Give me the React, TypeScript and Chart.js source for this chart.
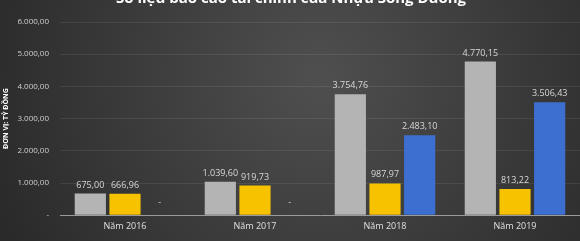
import React, { useEffect, useRef } from "react";
import { Chart, registerables } from "chart.js";

Chart.register(...registerables);

const categories = ["Năm 2016", "Năm 2017", "Năm 2018", "Năm 2019"];
const seriesGray = [675.0, 1039.6, 3754.76, 4770.15];
const seriesYellow = [666.96, 919.73, 987.97, 813.22];
const seriesBlue = [0, 0, 2483.1, 3506.43];
const titleText = "Số liệu báo cáo tài chính của Nhựa Sông Đuống";
const yAxisTitle = "ĐƠN VỊ: TỶ ĐỒNG";

function fmt(v: number): string {
  if (v === 0) return "-";
  const fixed = v.toFixed(2);
  const [intPart, dec] = fixed.split(".");
  const withDots = intPart.replace(/\B(?=(\d{3})+(?!\d))/g, ".");
  return withDots + "," + dec;
}

const bgPlugin = {
  id: "bgPlugin",
  beforeDraw(chart: any) {
    const { ctx, width, height } = chart;
    ctx.save();
    const g = ctx.createRadialGradient(width * 0.55, height * 0.35, 10, width * 0.55, height * 0.35, width * 0.6);
    g.addColorStop(0, "#4e4e4e");
    g.addColorStop(1, "#2a2a2a");
    ctx.fillStyle = g;
    ctx.fillRect(0, 0, width, height);
    ctx.restore();
  },
};

const labelPlugin = {
  id: "labelPlugin",
  afterDatasetsDraw(chart: any) {
    const { ctx } = chart;
    ctx.save();
    ctx.font = "9px 'Open Sans', sans-serif";
    ctx.fillStyle = "#d8d8d8";
    ctx.textAlign = "center";
    ctx.textBaseline = "bottom";
    chart.data.datasets.forEach((ds: any, i: number) => {
      const meta = chart.getDatasetMeta(i);
      meta.data.forEach((bar: any, j: number) => {
        const v = ds.data[j];
        ctx.fillText(fmt(v), bar.x, bar.y - (v === 0 ? 8 : 4));
      });
    });
    ctx.restore();
  },
};

export default function App() {
  const ref = useRef<HTMLCanvasElement | null>(null);
  useEffect(() => {
    document.body.style.margin = "0";
    const chart = new Chart(ref.current as HTMLCanvasElement, {
      type: "bar",
      data: {
        labels: categories,
        datasets: [
          { data: seriesGray, backgroundColor: "#b4b4b4" },
          { data: seriesYellow, backgroundColor: "#f7c200" },
          { data: seriesBlue, backgroundColor: "#3c6fcf" },
        ],
      },
      options: {
        animation: false,
        responsive: false,
        maintainAspectRatio: false,
        layout: { padding: { top: 0, right: 0, bottom: 3, left: 2 } },
        plugins: {
          legend: { display: false },
          tooltip: { enabled: false },
          title: {
            display: true,
            text: titleText,
            color: "#ffffff",
            font: { size: 15, weight: "bold", family: "'Open Sans', sans-serif" },
            padding: { top: 2, bottom: 14 },
          },
        },
        scales: {
          x: {
            grid: { display: false, drawTicks: false },
            border: { color: "#9a9a9a", width: 1 },
            ticks: {
              color: "#e0e0e0",
              font: { size: 9, family: "'Open Sans', sans-serif" },
              padding: 6,
            },
            categoryPercentage: 0.83,
            barPercentage: 0.8,
          } as any,
          y: {
            min: 0,
            max: 6000,
            grid: { color: "rgba(255,255,255,0.08)", drawTicks: false },
            border: { display: false },
            ticks: {
              stepSize: 1000,
              color: "#d0d0d0",
              font: { size: 8, family: "'Open Sans', sans-serif" },
              padding: 11,
              callback: (v: any) => fmt(Number(v)),
            },
            title: {
              display: true,
              text: yAxisTitle,
              color: "#ffffff",
              font: { size: 7, weight: "bold", family: "'Open Sans', sans-serif" },
              padding: { top: 0, bottom: 3 },
            },
            afterFit: (s: any) => { s.width = 58; },
          } as any,
        },
      },
      plugins: [bgPlugin, labelPlugin],
    });
    return () => chart.destroy();
  }, []);
  return (
    <div style={{ width: 580, height: 241, overflow: "hidden", position: "relative", background: "#2a2a2a" }}>
      <canvas ref={ref} width={580} height={253} style={{ position: "absolute", top: -12, left: 0, width: 580, height: 253 }} />
    </div>
  );
}
